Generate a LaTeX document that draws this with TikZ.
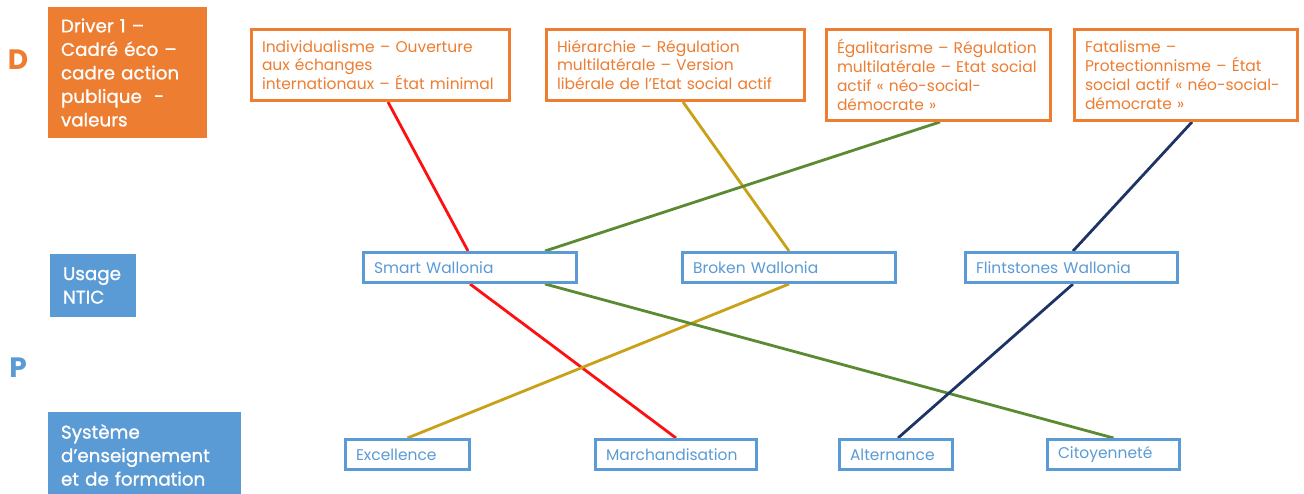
\documentclass[tikz,border=0pt]{standalone}
\usepackage{fontspec}
\setmainfont{Poppins}
\newfontfamily\headfont{Poppins}[FakeBold=1]
\usetikzlibrary{backgrounds}

\definecolor{dorange}{HTML}{ED7D31}
\definecolor{pblue}{HTML}{5B9BD5}
\definecolor{linkred}{HTML}{FF1010}
\definecolor{linkgold}{HTML}{C9A016}
\definecolor{linkgreen}{HTML}{5A8A32}
\definecolor{linknavy}{HTML}{1F3466}

\tikzset{
  framed/.style={rectangle, line width=2.6pt, fill=white, align=left,
    inner xsep=10.5pt, inner ysep=0pt},
  driverbox/.style={framed, draw=dorange, text=dorange,
    font=\fontsize{15.5}{18.8}\selectfont},
  scenbox/.style={framed, draw=pblue, text=pblue,
    font=\fontsize{15.5}{17}\selectfont},
  headbox/.style={rectangle, fill=#1, text=white, align=left,
    inner xsep=13pt, inner ysep=0pt,
    font=\headfont\fontsize{18.3}{23.5}\selectfont},
  letter/.style={text=#1, font=\fontsize{28}{30}\selectfont\bfseries, inner sep=0pt},
  link/.style={draw=#1, line width=2.8pt}
}

\begin{document}
\begin{tikzpicture}[x=1pt, y=-1pt]
  \useasboundingbox (0,0) rectangle (1304,494);

  % level labels
  \node[letter=dorange] (lD) at (18,60) {D};
  \node[letter=pblue]   (lP) at (18,368) {P};

  % row headers
  \node[headbox=dorange, minimum width=159pt, minimum height=131pt, text width=133pt]
    (hdriver) at (127.5,72.5) {Driver 1 –\\Cadré éco –\\cadre action\\publique \ -\\valeurs};
  \node[headbox=pblue, minimum width=86pt, minimum height=63pt, text width=60pt]
    (husage) at (93,285.5) {Usage\\NTIC};
  \node[headbox=pblue, minimum width=193pt, minimum height=86pt, text width=167pt]
    (hsys) at (144.5,455) {Système\\d’enseignement\\et de formation};

  % driver options
  \node[driverbox, minimum width=258.4pt, minimum height=71.4pt, text width=237pt]
    (d1) at (380.5,65) {Individualisme – Ouverture\\aux échanges\\internationaux – État minimal};
  \node[driverbox, minimum width=258.4pt, minimum height=71.4pt, text width=237pt]
    (d2) at (675.5,65) {Hiérarchie – Régulation\\multilatérale – Version\\libérale de l'Etat social actif};
  \node[driverbox, minimum width=224.4pt, minimum height=91.4pt, text width=203pt]
    (d3) at (938.5,75) {Égalitarisme – Régulation\\multilatérale – Etat social\\actif « néo-social-\\démocrate »};
  \node[driverbox, minimum width=223.4pt, minimum height=91.4pt, text width=202pt]
    (d4) at (1186,75) {Fatalisme –\\Protectionnisme – État\\social actif « néo-social-\\démocrate »};

  % ICT scenarios
  \node[scenbox, minimum width=213.4pt, minimum height=30.4pt, text width=192pt]
    (smart) at (470,267.5) {Smart Wallonia};
  \node[scenbox, minimum width=213.4pt, minimum height=30.4pt, text width=192pt]
    (broken) at (789,267.5) {Broken Wallonia};
  \node[scenbox, minimum width=212.4pt, minimum height=30.4pt, text width=191pt]
    (flint) at (1071.5,267.5) {Flintstones Wallonia};

  % education systems
  \node[scenbox, minimum width=124.4pt, minimum height=30.4pt, text width=103pt]
    (excel) at (407.5,454.5) {Excellence};
  \node[scenbox, minimum width=161.4pt, minimum height=30.4pt, text width=140pt]
    (march) at (676,454.5) {Marchandisation};
  \node[scenbox, minimum width=113.4pt, minimum height=30.4pt, text width=92pt]
    (alter) at (896,454.5) {Alternance};
  \node[scenbox, minimum width=132.4pt, minimum height=30.4pt, text width=111pt]
    (citoy) at (1113.5,454.5) {Citoyenneté};

  % pathways
  \begin{scope}[on background layer]
    \draw[link=linkred]   ([xshift=7.5pt]d1.south) -- ([xshift=-2pt]smart.north);
    \draw[link=linkred]   (smart.south) -- (march.north);
    \draw[link=linkgold]  ([xshift=7.5pt]d2.south) -- (broken.north);
    \draw[link=linkgold]  (broken.south) -- (excel.north);
    \draw[link=linkgreen] ([xshift=1.5pt]d3.south) -- ([xshift=75pt]smart.north);
    \draw[link=linkgreen] ([xshift=75pt]smart.south) -- (citoy.north);
    \draw[link=linknavy]  ([xshift=6pt]d4.south) -- ([xshift=1.5pt]flint.north);
    \draw[link=linknavy]  ([xshift=1.5pt]flint.south) -- ([xshift=2pt]alter.north);
  \end{scope}
\end{tikzpicture}
\end{document}
